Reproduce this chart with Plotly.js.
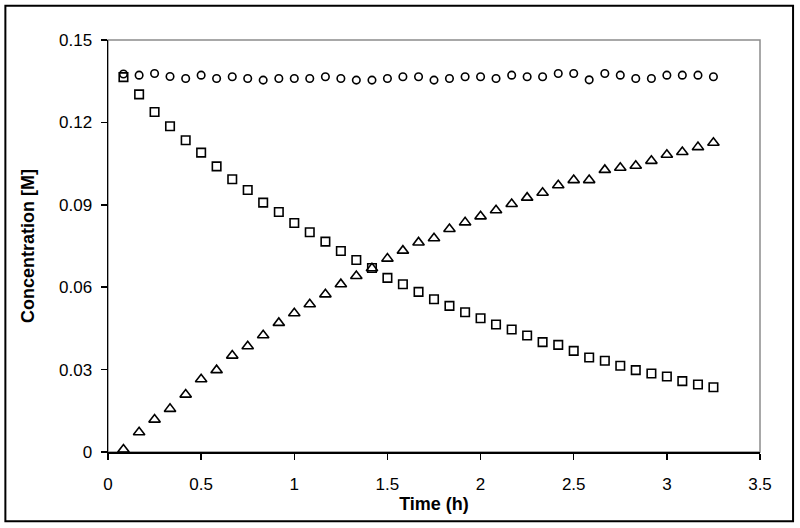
<!DOCTYPE html>
<html>
<head>
<meta charset="utf-8">
<script src="https://cdn.plot.ly/plotly-3.0.1.min.js"></script>
<style>
  html, body { margin: 0; padding: 0; background: #fff; }
  #chart { width: 800px; height: 528px; }
</style>
</head>
<body>
<div id="chart"></div>
<script>
const time = [0.083,0.167,0.25,0.333,0.417,0.5,0.583,0.667,0.75,0.833,0.917,1,1.083,1.167,1.25,1.333,1.417,1.5,1.583,1.667,1.75,1.833,1.917,2,2.083,2.167,2.25,2.333,2.417,2.5,2.583,2.667,2.75,2.833,2.917,3,3.083,3.167,3.25];

const circles = [0.1376,0.1372,0.1378,0.1367,0.1360,0.1372,0.1360,0.1366,0.1360,0.1354,0.1360,0.1360,0.1360,0.1366,0.1360,0.1354,0.1354,0.1360,0.1366,0.1366,0.1354,0.1360,0.1366,0.1366,0.1360,0.1372,0.1366,0.1366,0.1378,0.1378,0.1355,0.1378,0.1372,0.1360,0.1360,0.1372,0.1372,0.1372,0.1366];

const squares = [0.1365,0.1302,0.1238,0.1186,0.1135,0.1090,0.1040,0.0993,0.0954,0.0908,0.0874,0.0834,0.0800,0.0766,0.0732,0.0699,0.0670,0.0634,0.0611,0.0583,0.0556,0.0532,0.0509,0.0487,0.0464,0.0446,0.0424,0.0400,0.0390,0.0368,0.0344,0.0332,0.0314,0.0298,0.0286,0.0275,0.0258,0.0246,0.0236];

const triangles = [0.0009,0.0072,0.0118,0.0157,0.0209,0.0265,0.0298,0.0351,0.0385,0.0425,0.0470,0.0505,0.0538,0.0574,0.0611,0.0641,0.0669,0.0704,0.0733,0.0763,0.0778,0.0812,0.0836,0.0858,0.0880,0.0903,0.0926,0.0944,0.0971,0.0990,0.0990,0.1027,0.1035,0.1042,0.1060,0.1082,0.1092,0.1110,0.1126];

const xTickVals = [0,0.5,1,1.5,2,2.5,3,3.5];
const yTickVals = [0,0.03,0.06,0.09,0.12,0.15];
const xTitle = 'Time (h)';
const yTitle = 'Concentration [M]';

const FONT = '"Liberation Sans", Arial, sans-serif';

function tr(y, sym, size) {
  return {
    x: time, y: y, type: 'scatter', mode: 'markers',
    marker: { symbol: sym, size: size, color: '#000', line: { color: '#000', width: 1.6 } },
    hoverinfo: 'skip', showlegend: false
  };
}

const data = [
  tr(circles, 'circle-open', 7.5),
  tr(squares, 'square-open', 8.5),
  tr(triangles, 'triangle-up-open', 10)
];

const layout = {
  width: 800, height: 528,
  margin: { l: 108, r: 40, t: 40, b: 76, pad: 0 },
  paper_bgcolor: '#fff', plot_bgcolor: '#fff',
  font: { family: FONT, size: 17, color: '#000' },
  showlegend: false,
  xaxis: {
    range: [0, 3.5], tickvals: xTickVals, ticktext: xTickVals.map(String),
    showgrid: false, zeroline: false, showline: true, linecolor: '#000', linewidth: 1.5,
    ticks: 'outside', ticklen: 6, tickwidth: 1.5, tickcolor: '#000',
    ticklabelstandoff: 10,
    tickfont: { family: FONT, size: 17, color: '#000' },
    title: { text: xTitle, font: { family: FONT, size: 18, color: '#000', weight: 'bold' }, standoff: 1 },
    automargin: false, fixedrange: true
  },
  yaxis: {
    range: [0, 0.15], tickvals: yTickVals, ticktext: yTickVals.map(String),
    showgrid: false, zeroline: false, showline: true, linecolor: '#000', linewidth: 1.5,
    ticks: 'outside', ticklen: 6, tickwidth: 1.5, tickcolor: '#000',
    ticklabelstandoff: 5,
    tickfont: { family: FONT, size: 17, color: '#000' },
    title: { text: yTitle, font: { family: FONT, size: 18, color: '#000', weight: 'bold' }, standoff: 19 },
    automargin: false, fixedrange: true
  },
  shapes: [
    { type: 'rect', xref: 'paper', yref: 'paper', x0: 0, x1: 1, y0: 0, y1: 1,
      line: { color: '#8c8c8c', width: 1.5 }, layer: 'below' },
    { type: 'rect', xref: 'paper', yref: 'paper', x0: -0.1574, x1: 1.0507, y0: -0.168, y1: 1.083,
      line: { color: '#000', width: 2 }, layer: 'above' }
  ]
};

Plotly.newPlot('chart', data, layout, { staticPlot: true, displayModeBar: false });
</script>
</body>
</html>
